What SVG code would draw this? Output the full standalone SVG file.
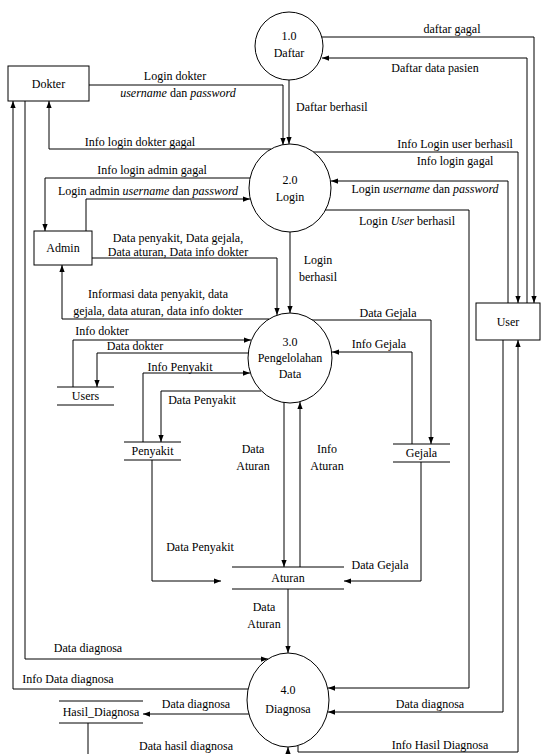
<svg xmlns="http://www.w3.org/2000/svg" width="541" height="754" viewBox="0 0 541 754">
<defs>
<marker id="ah" viewBox="0 0 8 8" refX="8" refY="4" markerWidth="7" markerHeight="7" orient="auto" markerUnits="userSpaceOnUse"><path d="M0,1 L8,4 L0,7 z" fill="#000"/></marker>
<style>
text{font-family:"Liberation Serif","Times New Roman",serif;font-size:12px;fill:#000}
.c{text-anchor:middle}
.ln{fill:none;stroke:#000;stroke-width:1}
.ar{marker-end:url(#ah)}
.nd{fill:#fff;stroke:#000;stroke-width:1}
.st{stroke:#000;stroke-width:1}
</style>
</defs>
<rect width="541" height="754" fill="#fff"/>
<g id="connectors">
<polyline class="ln ar" points="321,37 534,37 534,303"/>
<polyline class="ln ar" points="527,303 527,58 322,58"/>
<polyline class="ln ar" points="89,85 283,85 283,145"/>
<polyline class="ln ar" points="289,80 289,144"/>
<polyline class="ln ar" points="271,149 49,149 49,101"/>
<polyline class="ln ar" points="250,178 45,178 45,231"/>
<polyline class="ln ar" points="86,231 86,199 250,199"/>
<polyline class="ln ar" points="92,258 277,258 277,315"/>
<polyline class="ln ar" points="269,319 62,319 62,265"/>
<polyline class="ln ar" points="313,152 518,152 518,303"/>
<polyline class="ln ar" points="508,303 508,181 331,181"/>
<polyline class="ln ar" points="325,210 469,210 469,688 328,688"/>
<polyline class="ln ar" points="290,232 290,313"/>
<polyline class="ln ar" points="312,320 431,320 431,444"/>
<polyline class="ln ar" points="412,444 412,352 332,352"/>
<polyline class="ln ar" points="73,387 73,340 251,340"/>
<polyline class="ln ar" points="248,353 97,353 97,387"/>
<polyline class="ln ar" points="143,442 143,373 250,373"/>
<polyline class="ln ar" points="261,391 161,391 161,442"/>
<polyline class="ln ar" points="284,402 284,567"/>
<polyline class="ln ar" points="300,567 300,402"/>
<polyline class="ln ar" points="152,460 152,581 221,581"/>
<polyline class="ln ar" points="421,462 421,581 344,581"/>
<polyline class="ln ar" points="288,589 288,653"/>
<polyline class="ln ar" points="25,101 25,659 268,659"/>
<polyline class="ln ar" points="248,689 13,689 13,101"/>
<polyline class="ln ar" points="249,714 143,714"/>
<polyline class="ln ar" points="88,723 88,760 288,760 288,747"/>
<polyline class="ln ar" points="503,340 503,712 328,712"/>
<polyline class="ln ar" points="298,746 298,752 518,752 518,340"/>
<text class="c" x="452" y="33">daftar gagal</text>
<text class="c" x="435" y="72">Daftar data pasien</text>
<text class="c" x="175" y="80">Login dokter</text>
<text class="c" x="178" y="97"><tspan font-style="italic">username</tspan> dan <tspan font-style="italic">password</tspan></text>
<text x="296" y="111">Daftar berhasil</text>
<text class="c" x="140" y="146">Info login dokter gagal</text>
<text class="c" x="152" y="174">Info login admin gagal</text>
<text class="c" x="148" y="195">Login admin <tspan font-style="italic">username</tspan> dan <tspan font-style="italic">password</tspan></text>
<text class="c" x="178" y="242">Data penyakit, Data gejala,</text>
<text class="c" x="178" y="256">Data aturan, Data info dokter</text>
<text class="c" x="158" y="298">Informasi data penyakit, data</text>
<text class="c" x="158" y="315">gejala, data aturan, data info dokter</text>
<text class="c" x="455" y="148">Info Login user berhasil</text>
<text class="c" x="455" y="165">Info login gagal</text>
<text class="c" x="425" y="193">Login <tspan font-style="italic">username</tspan> dan <tspan font-style="italic">password</tspan></text>
<text class="c" x="407" y="225">Login <tspan font-style="italic">User</tspan> berhasil</text>
<text class="c" x="318" y="264">Login</text>
<text class="c" x="318" y="281">berhasil</text>
<text class="c" x="388" y="317">Data Gejala</text>
<text class="c" x="379" y="348">Info Gejala</text>
<text class="c" x="102" y="335">Info dokter</text>
<text class="c" x="135" y="350">Data dokter</text>
<text class="c" x="180" y="371">Info Penyakit</text>
<text class="c" x="202" y="404">Data Penyakit</text>
<text class="c" x="253" y="453">Data</text>
<text class="c" x="253" y="470">Aturan</text>
<text class="c" x="327" y="453">Info</text>
<text class="c" x="327" y="470">Aturan</text>
<text class="c" x="200" y="551">Data Penyakit</text>
<text class="c" x="380" y="569">Data Gejala</text>
<text class="c" x="264" y="611">Data</text>
<text class="c" x="264" y="628">Aturan</text>
<text class="c" x="88" y="652">Data diagnosa</text>
<text class="c" x="68" y="683">Info Data diagnosa</text>
<text class="c" x="196" y="708">Data diagnosa</text>
<text class="c" x="186" y="750">Data hasil diagnosa</text>
<text class="c" x="430" y="708">Data diagnosa</text>
<text class="c" x="440" y="749">Info Hasil Diagnosa</text>
</g>
<g id="p1">
<circle class="nd" cx="289" cy="46" r="34"/>
<text class="c" x="289" y="40">1.0</text>
<text class="c" x="289" y="57">Daftar</text>
</g>
<g id="p2">
<ellipse class="nd" cx="290" cy="188" rx="41" ry="44"/>
<text class="c" x="290" y="184">2.0</text>
<text class="c" x="290" y="201">Login</text>
</g>
<g id="p3">
<ellipse class="nd" cx="290" cy="358" rx="42" ry="45"/>
<text class="c" x="290" y="346">3.0</text>
<text class="c" x="290" y="362">Pengelolahan</text>
<text class="c" x="290" y="378">Data</text>
</g>
<g id="p4">
<ellipse class="nd" cx="288" cy="700" rx="41" ry="47"/>
<text class="c" x="288" y="694">4.0</text>
<text class="c" x="288" y="713">Diagnosa</text>
</g>
<g id="dokter">
<rect class="nd" x="8" y="66" width="81" height="35"/>
<text class="c" x="48.5" y="88">Dokter</text>
</g>
<g id="admin">
<rect class="nd" x="34" y="231" width="58" height="34"/>
<text class="c" x="63" y="252">Admin</text>
</g>
<g id="user">
<rect class="nd" x="476" y="303" width="64" height="37"/>
<text class="c" x="508" y="326">User</text>
</g>
<g id="users">
<line class="st" x1="57" y1="387" x2="114" y2="387"/>
<line class="st" x1="57" y1="405" x2="114" y2="405"/>
<text class="c" x="85.5" y="400">Users</text>
</g>
<g id="penyakit">
<line class="st" x1="124" y1="442" x2="181" y2="442"/>
<line class="st" x1="124" y1="460" x2="181" y2="460"/>
<text class="c" x="152.5" y="455">Penyakit</text>
</g>
<g id="gejala">
<line class="st" x1="393" y1="444" x2="450" y2="444"/>
<line class="st" x1="393" y1="462" x2="450" y2="462"/>
<text class="c" x="421.5" y="457">Gejala</text>
</g>
<g id="aturan">
<line class="st" x1="232" y1="567" x2="344" y2="567"/>
<line class="st" x1="232" y1="589" x2="344" y2="589"/>
<text class="c" x="288" y="582">Aturan</text>
</g>
<g id="hasil_diagnosa">
<line class="st" x1="59" y1="701" x2="143" y2="701"/>
<line class="st" x1="59" y1="723" x2="143" y2="723"/>
<text class="c" x="101" y="716">Hasil_Diagnosa</text>
</g>
</svg>
